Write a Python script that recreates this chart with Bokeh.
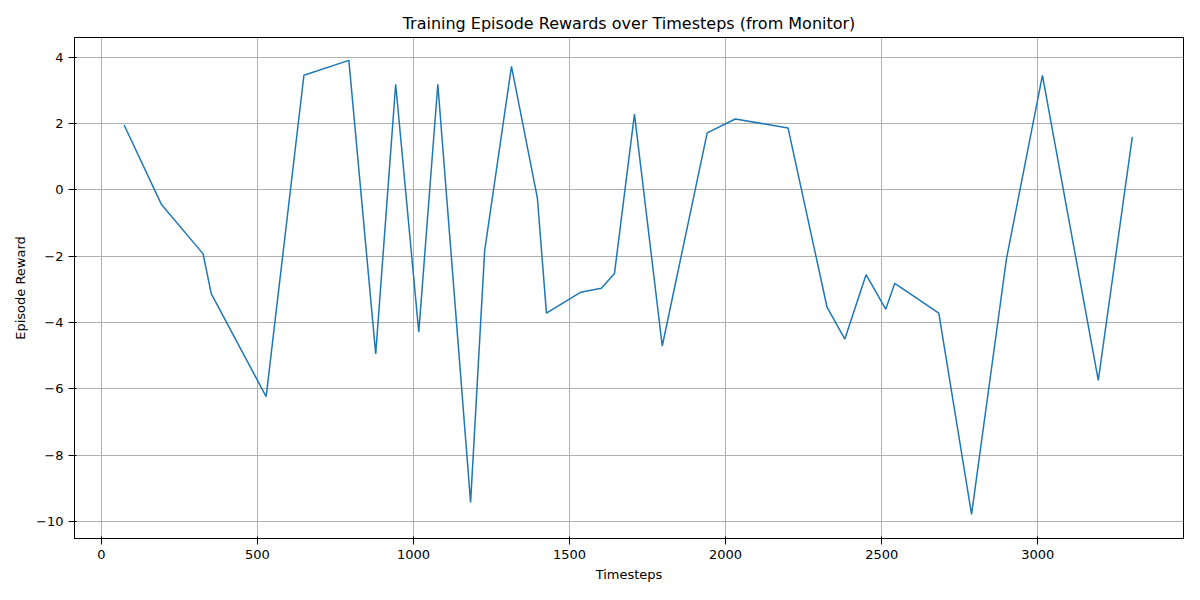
from bokeh.plotting import figure
from bokeh.embed import file_html
from bokeh.resources import INLINE
from bokeh.models import Range1d, FixedTicker

timesteps = [73, 192, 326, 352, 528, 649, 793, 879, 943, 1017, 1078, 1183, 1228, 1314, 1397, 1426,
             1535, 1602, 1644, 1708, 1797, 1941, 2031, 2200, 2325, 2382, 2450, 2513, 2542, 2683,
             2788, 2900, 3015, 3194, 3303]
rewards = [1.96, -0.43, -1.93, -3.13, -6.24, 3.46, 3.91, -4.95, 3.19, -4.29, 3.19, -9.43, -1.84, 3.73,
           -0.25, -3.72, -3.09, -2.97, -2.52, 2.29, -4.71, 1.72, 2.14, 1.87, -3.54, -4.50, -2.56,
           -3.60, -2.82, -3.72, -9.79, -2.07, 3.46, -5.75, 1.60]
x_ticks = [0, 500, 1000, 1500, 2000, 2500, 3000]
y_ticks = [-10, -8, -6, -4, -2, 0, 2, 4]

p = figure(width=1184, height=584, output_backend="svg", toolbar_location=None,
           title="Training Episode Rewards over Timesteps (from Monitor)",
           x_range=Range1d(-86, 3467), y_range=Range1d(-10.52, 4.60),
           min_border_left=74, min_border_right=1, min_border_top=37, min_border_bottom=42)
p.line(timesteps, rewards, line_color="#1f77b4", line_width=1.5)
p.title.align = "center"
p.title.text_font = "DejaVu Sans"
p.title.text_font_size = "16px"
p.title.text_font_style = "normal"
p.title.text_color = "black"
p.xaxis.ticker = FixedTicker(ticks=x_ticks)
p.yaxis.ticker = FixedTicker(ticks=y_ticks)
p.xaxis.axis_label = "Timesteps"
p.yaxis.axis_label = "Episode Reward"
for ax in (p.xaxis, p.yaxis):
    ax.axis_label_text_font = "DejaVu Sans"
    ax.axis_label_text_font_size = "13px"
    ax.axis_label_text_font_style = "normal"
    ax.axis_label_text_color = "black"
    ax.major_label_text_font = "DejaVu Sans"
    ax.major_label_text_font_size = "13px"
    ax.minor_tick_line_color = None
    ax.major_label_text_color = "black"
    ax.axis_line_color = "black"
p.grid.grid_line_color = "#b0b0b0"
p.grid.grid_line_width = 1
p.outline_line_color = "black"

open("out.html", "w").write(file_html(p, INLINE))
